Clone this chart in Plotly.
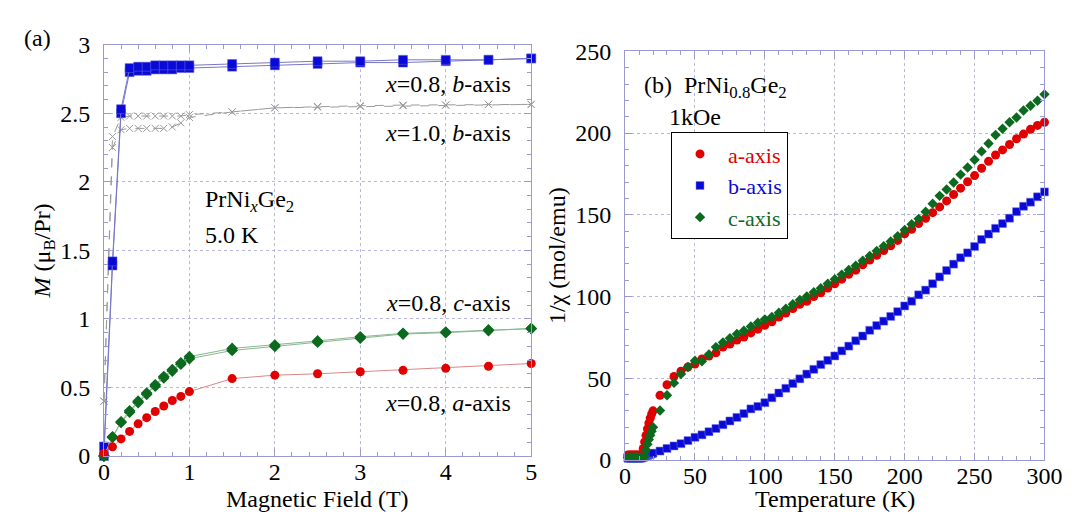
import plotly.graph_objects as go

# ---------------- Panel (a): M vs H at 5.0 K ----------------
H = [0, 0.1, 0.2, 0.3, 0.4, 0.5, 0.6, 0.7, 0.8, 0.9, 1.0, 1.5, 2.0, 2.5, 3.0, 3.5, 4.0, 4.5, 5.0]

M_b08_up = [0.00, 1.39, 2.50, 2.80, 2.81, 2.81, 2.82, 2.82, 2.82, 2.83, 2.83, 2.84, 2.85, 2.86, 2.87, 2.87, 2.88, 2.89, 2.90]
M_b08_dn = [0.07, 1.42, 2.53, 2.83, 2.84, 2.84, 2.85, 2.85, 2.85, 2.85, 2.85, 2.86, 2.87, 2.88, 2.88, 2.89, 2.89, 2.89, 2.90]

M_b10_up = [0.40, 2.25, 2.38, 2.39, 2.39, 2.39, 2.39, 2.39, 2.40, 2.43, 2.47, 2.51, 2.54, 2.545, 2.55, 2.555, 2.56, 2.565, 2.565]
M_b10_dn = [0.40, 2.33, 2.47, 2.48, 2.48, 2.48, 2.48, 2.48, 2.48, 2.48, 2.49, 2.51, 2.54, 2.55, 2.555, 2.56, 2.56, 2.565, 2.565]

M_c08_up = [0.00, 0.136, 0.245, 0.32, 0.39, 0.45, 0.51, 0.57, 0.62, 0.67, 0.71, 0.77, 0.80, 0.83, 0.86, 0.89, 0.90, 0.915, 0.93]
M_c08_dn = [0.00, 0.14, 0.25, 0.33, 0.40, 0.46, 0.52, 0.58, 0.63, 0.68, 0.725, 0.785, 0.81, 0.84, 0.87, 0.895, 0.905, 0.92, 0.93]

M_a08 = [0.02, 0.067, 0.125, 0.18, 0.235, 0.28, 0.325, 0.365, 0.405, 0.435, 0.47, 0.565, 0.59, 0.60, 0.615, 0.625, 0.64, 0.655, 0.675]

# ---------------- Panel (b): 1/chi vs T, 1 kOe ----------------
T = [2, 3, 4, 5, 6, 7, 8, 9, 10, 11, 12, 13, 14, 15, 16, 17, 18, 19, 20,
     25, 30, 35, 40, 45, 50, 55, 60, 65, 70, 75, 80, 85, 90, 95, 100,
     105, 110, 115, 120, 125, 130, 135, 140, 145, 150, 155, 160, 165, 170, 175, 180,
     185, 190, 195, 200, 205, 210, 215, 220, 225, 230, 235, 240, 245, 250,
     255, 260, 265, 270, 275, 280, 285, 290, 295, 300]

inv_chi_a = [3, 3, 3, 3, 3, 3, 3, 3, 3, 3, 3.5, 7, 11, 15, 19, 22.5, 25.5, 28, 30,
             39.5, 46, 51, 54.3, 56.8, 58.7, 61.8, 63.5, 65.5, 69, 70.9, 73.3, 75.2, 77.7, 80, 82.4,
             84.5, 87.4, 89.9, 92.6, 95.2, 97.1, 100, 102.3, 105.2, 107.8, 110.6, 113.6, 116.1, 119.4, 122.3, 125.2,
             128.1, 131, 134.3, 138.4, 141.1, 144.6, 147.9, 151.3, 154.8, 158.5, 162.4, 166.3, 170.2, 174,
             178.5, 182.7, 186.6, 189.7, 193, 196.5, 199.4, 202.3, 204.7, 206.6]

inv_chi_b = [1, 1, 1, 1, 1, 1, 1, 1, 1, 1, 1.2, 1.5, 1.8, 2.2, 2.6, 3.0, 3.4, 3.7, 4.1,
             5.4, 7, 8.5, 9.9, 11.8, 13.8, 15.3, 17.2, 19.2, 21.5, 23.8, 26, 28.3, 31.2, 32.7, 35,
             38, 40.9, 43.8, 46.7, 49.6, 52.5, 55.4, 58.3, 60.9, 63.6, 66.7, 69.6, 72.9, 75.8, 79.3, 82.2,
             84.9, 87.8, 90.7, 94.2, 97.1, 101, 103.9, 107.8, 112, 115.9, 119.8, 123.7, 126.7, 130.6,
             134.9, 138.2, 141.7, 144.6, 147.9, 151.9, 155.2, 157.7, 161, 164]

inv_chi_c = [1.5, 1.5, 1.5, 1.5, 1.5, 1.5, 1.5, 1.5, 1.5, 1.5, 1.5, 1.5, 2, 6, 9.5, 12.5, 15, 17.5, 20,
             30.2, 39.5, 47.1, 52.5, 56.8, 60.7, 60.3, 64.5, 69, 71.9, 74.4, 77.1, 79, 81.6, 83.9, 86,
             87.5, 90, 92.5, 95.2, 97.8, 100, 102.6, 105, 107.8, 110.6, 113.4, 116.2, 118.8, 121.9, 124.8, 127.8,
             130.8, 133.7, 136.9, 140.7, 144.2, 147.5, 151.9, 156.8, 161.6, 165.5, 169.8, 174.6, 178.9, 183.7,
             188.8, 193.6, 198.8, 202.7, 206.6, 209.5, 213.8, 216.7, 219.8, 223.7]

W, Hpx = 1076, 519
FONT = "Liberation Serif, Times New Roman, Times, serif"
FS = 24
BLUE = "#0a0ad6"
RED = "#e00000"
GREEN = "#0b6a1e"
GRAY = "#9a9a9a"
AXC = "#9a9ad0"
GRIDC = "#b8b8dc"


def px(x):
    return x / W


def py(y):
    return 1 - y / Hpx


fig = go.Figure()

# panel (a) traces
for ys in (M_b10_up, M_b10_dn):
    fig.add_trace(go.Scatter(x=H, y=ys, mode="lines+markers", xaxis="x", yaxis="y",
                             line=dict(color=GRAY, width=1, dash="dash"),
                             marker=dict(symbol="x-thin", size=7, line=dict(color=GRAY, width=1)),
                             showlegend=False, cliponaxis=False))
for ys in (M_b08_up, M_b08_dn):
    fig.add_trace(go.Scatter(x=H, y=ys, mode="lines+markers", xaxis="x", yaxis="y",
                             line=dict(color="#7878c8", width=1),
                             marker=dict(symbol="square", size=9, color=BLUE,
                                         line=dict(color="#6a6ae0", width=0.5)),
                             showlegend=False, cliponaxis=False))
for ys in (M_c08_up, M_c08_dn):
    fig.add_trace(go.Scatter(x=H, y=ys, mode="lines+markers", xaxis="x", yaxis="y",
                             line=dict(color="#88b890", width=1),
                             marker=dict(symbol="diamond", size=9, color=GREEN),
                             showlegend=False, cliponaxis=False))
fig.add_trace(go.Scatter(x=H, y=M_a08, mode="lines+markers", xaxis="x", yaxis="y",
                         line=dict(color="#d88888", width=1),
                         marker=dict(symbol="circle", size=9, color=RED),
                         showlegend=False, cliponaxis=False))

# panel (b) traces
fig.add_trace(go.Scatter(x=T, y=inv_chi_b, mode="markers", xaxis="x2", yaxis="y2",
                         name='<span style="color:%s">b-axis</span>' % BLUE, legendrank=2,
                         marker=dict(symbol="square", size=8, color=BLUE,
                                     line=dict(color="#7a7ae8", width=0.5)),
                         cliponaxis=False))
fig.add_trace(go.Scatter(x=T, y=inv_chi_a, mode="markers", xaxis="x2", yaxis="y2",
                         name='<span style="color:%s">a-axis</span>' % RED, legendrank=1,
                         marker=dict(symbol="circle", size=9, color=RED),
                         cliponaxis=False))
fig.add_trace(go.Scatter(x=T, y=inv_chi_c, mode="markers", xaxis="x2", yaxis="y2",
                         name='<span style="color:%s">c-axis</span>' % GREEN, legendrank=3,
                         marker=dict(symbol="diamond", size=8, color=GREEN),
                         cliponaxis=False))


def axis(rng, dtick, mdtick, domain, title, anchor, standoff, lblstand):
    d = dict(range=rng, dtick=dtick, domain=domain, anchor=anchor,
             showline=True, linecolor=AXC, linewidth=1, mirror="ticks",
             ticks="inside", ticklen=7, tickcolor=AXC, tickwidth=1,
             showgrid=True, gridcolor=GRIDC, griddash="dot", gridwidth=1,
             zeroline=False, ticklabelstandoff=lblstand,
             tickfont=dict(family=FONT, size=FS, color="black"),
             minor=dict(dtick=mdtick, ticks="inside", ticklen=4, tickcolor=AXC, showgrid=False))
    if title:
        d["title"] = dict(text=title, font=dict(family=FONT, size=FS, color="black"), standoff=standoff)
    return d


fig.update_layout(
    width=W, height=Hpx,
    margin=dict(l=0, r=0, t=0, b=0),
    paper_bgcolor="white", plot_bgcolor="white",
    font=dict(family=FONT, size=FS, color="black"),
    xaxis=axis([0, 5], 1, 0.2, [px(92), px(529)], None, "y", 0, -6),
    yaxis=axis([0, 3], 0.5, 0.1, [py(458), py(25)], "<i>M</i> (μ<sub>B</sub>/Pr)", "x", 2, 8),
    xaxis2=axis([0, 300], 50, 10, [px(625), px(1054)], None, "y2", 0, -6),
    yaxis2=axis([0, 250], 50, 10, [py(462), py(32)], "1/χ (mol/emu)", "x2", 2, 8),
    legend=dict(x=px(672), y=py(117), xanchor="left", yanchor="top",
                bgcolor="white", bordercolor="black", borderwidth=1,
                font=dict(family=FONT, size=22), tracegroupgap=0,
                itemwidth=46),
    showlegend=True,
)

ann = [
    ("(a)", 8, 18, "left"),
    ("<i>x</i>=0.8, <i>b</i>-axis", 510, 66, "right"),
    ("<i>x</i>=1.0, <i>b</i>-axis", 510, 118, "right"),
    ("PrNi<sub><i>x</i></sub>Ge<sub>2</sub>", 193, 190, "left"),
    ("5.0 K", 193, 225, "left"),
    ("<i>x</i>=0.8, <i>c</i>-axis", 510, 297, "right"),
    ("<i>x</i>=0.8, <i>a</i>-axis", 510, 402, "right"),
    ("(b)  PrNi<sub>0.8</sub>Ge<sub>2</sub>", 642, 70, "left"),
    ("1kOe", 668, 101, "left"),
]
for text, x, y, al in ann:
    fig.add_annotation(text=text, x=px(x), y=py(y), xref="paper", yref="paper",
                       xanchor=al, yanchor="middle", showarrow=False,
                       font=dict(family=FONT, size=FS, color="black"))

# x-axis titles
for text, x in (("Magnetic Field (T)", 310), ("Temperature (K)", 840)):
    fig.add_annotation(text=text, x=px(x), y=py(503), xref="paper", yref="paper",
                       xanchor="center", yanchor="middle", showarrow=False,
                       font=dict(family=FONT, size=FS, color="black"))

fig.write_html("out.html")
